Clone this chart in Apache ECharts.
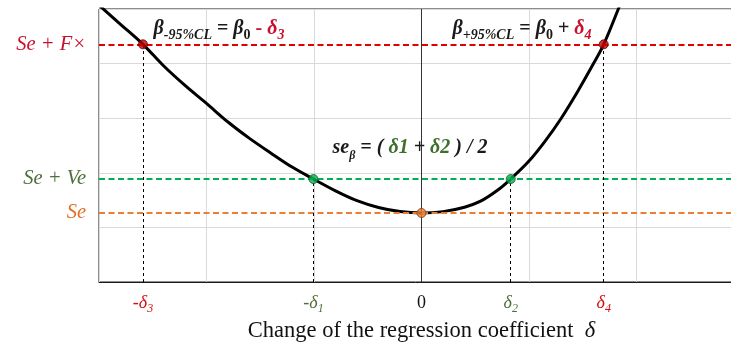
<!DOCTYPE html>
<html><head><meta charset="utf-8">
<script src="https://cdn.jsdelivr.net/npm/echarts@6/dist/echarts.min.js"></script>
<style>html,body{margin:0;padding:0;background:#fff}#c{width:731px;height:345px}</style>
</head><body><div id="c"></div>
<script>
// ---- data ----
const curveX = [-3.0, -2.8, -2.591, -2.4, -2.2, -2.0, -1.8, -1.6, -1.4, -1.2, -1.005, -0.8, -0.6, -0.4, -0.2, 0, 0.2, 0.4, 0.55, 0.7, 0.83, 1.0, 1.15, 1.3, 1.45, 1.6, 1.695, 1.831, 1.9];
const curveY = [5.07, 4.72, 4.353, 3.96, 3.60, 3.27, 2.93, 2.63, 2.36, 2.10, 1.886, 1.67, 1.49, 1.365, 1.29, 1.264, 1.289, 1.37, 1.48, 1.67, 1.886, 2.214, 2.58, 3.0, 3.48, 4.0, 4.353, 5.0, 5.35];
const levelNames = ['Se', 'Se + Ve', 'Se + F×'];
const levelValues = [1.264, 1.886, 4.353];
const pointX = [-2.591, -1.005, 0, 0.83, 1.695];
const pointY = [4.353, 1.886, 1.264, 1.886, 4.353];
const xTickLabels = ['-δ3', '-δ1', '0', 'δ2', 'δ4'];

const RED = '#c00000', GREEN = '#00b050', ORANGE = '#ed7d31';
const levelColors = [ORANGE, GREEN, '#e00000'];
const levelTextColors = ['#e07028', '#4f6f3a', '#c8102e'];
const pointFill = [RED, GREEN, ORANGE, GREEN, RED];
const pointBorder = ['#5a0000', '#1d5a2c', '#7a3a10', '#1d5a2c', '#5a0000'];
const xTickColors = ['#d01010', '#4f6f3a', '#111', '#4f6f3a', '#d01010'];
const SERIF = '"Liberation Serif","DejaVu Serif",serif';

const chart = echarts.init(document.getElementById('c'), null, {renderer: 'canvas'});

const xRich = {};
xTickColors.forEach((c, i) => {
  xRich['m' + i] = {fontFamily: SERIF, fontStyle: i === 2 ? 'normal' : 'italic', fontSize: 18, color: c, lineHeight: 24, verticalAlign: 'middle'};
  xRich['s' + i] = {fontFamily: SERIF, fontStyle: 'italic', fontSize: 12, color: c, lineHeight: 13, verticalAlign: 'bottom'};
});
const yRich = {};
levelTextColors.forEach((c, i) => {
  yRich['y' + i] = {fontFamily: SERIF, fontStyle: 'italic', fontSize: 20.5, color: c};
});

function richAnno(parts) { return parts.map(p => '{' + p[0] + '|' + p[1] + '}').join(''); }
function tok(size, style, weight, color, lh, va) {
  return {fontFamily: SERIF, fontStyle: style, fontWeight: weight, fontSize: size, fill: color, color: color, lineHeight: lh, verticalAlign: va};
}
const BLK = '#1a1a1a', ARED = '#c8102e', AGRN = '#3f6f2a';
const annoRich = {
  b: tok(20, 'italic', 'bold', BLK, 27, 'middle'),
  n: tok(20, 'normal', 'bold', BLK, 27, 'middle'),
  bs: tok(14, 'italic', 'bold', BLK, 15, 'bottom'),
  ns: tok(14, 'normal', 'bold', BLK, 15, 'bottom'),
  r: tok(20, 'normal', 'bold', ARED, 27, 'middle'),
  ri: tok(20, 'italic', 'bold', ARED, 27, 'middle'),
  rs: tok(14, 'italic', 'bold', ARED, 15, 'bottom'),
  g: tok(20, 'italic', 'bold', AGRN, 27, 'middle'),
  bss: tok(12, 'italic', 'bold', BLK, 15, 'bottom')
};

const option = {
  animation: false,
  backgroundColor: '#fff',
  grid: {left: 99, right: -13, top: 9, bottom: 63, containLabel: false, outerBoundsMode: 'none',
    show: true, borderColor: '#1a1a1a', borderWidth: 1, backgroundColor: 'transparent'},
  xAxis: {
    type: 'value', min: -3, max: 3, interval: 1,
    axisLine: {show: true, lineStyle: {color: '#1a1a1a', width: 1}},
    axisTick: {show: false},
    splitLine: {show: true, lineStyle: {color: '#d9d9d9', width: 1}},
    axisLabel: {
      customValues: pointX, margin: 9,
      formatter: function (v) {
        let i = pointX.findIndex(p => Math.abs(p - v) < 1e-6);
        if (i < 0) return '';
        const t = xTickLabels[i];
        if (t.length > 1 && /\d$/.test(t)) return '{m' + i + '|' + t.slice(0, -1) + '}{s' + i + '|' + t.slice(-1) + '}';
        return '{m' + i + '|' + t + '}';
      },
      rich: xRich
    },
    name: '{a|Change of the regression coefficient  }{d|δ}',
    nameLocation: 'middle', nameGap: 36,
    nameTextStyle: {rich: {
      a: {fontFamily: SERIF, fontSize: 22.5, color: '#111'},
      d: {fontFamily: SERIF, fontStyle: 'italic', fontSize: 22.5, color: '#111'}
    }}
  },
  yAxis: {
    type: 'value', min: 0, max: 5, interval: 1,
    axisLine: {show: false}, axisTick: {show: false},
    splitLine: {show: true, lineStyle: {color: '#d9d9d9', width: 1}},
    axisLabel: {
      customValues: levelValues, margin: 13,
      formatter: function (v) {
        let i = levelValues.findIndex(p => Math.abs(p - v) < 1e-6);
        if (i < 0) return '';
        return '{y' + i + '|' + levelNames[i] + '}';
      },
      rich: yRich
    }
  },
  series: [
    {
      type: 'line', name: 'guides', data: [], z: 1, silent: true,
      markLine: {
        silent: true, symbol: 'none', animation: false, label: {show: false},
        data: levelValues.map((v, i) => ({yAxis: v, lineStyle: {color: levelColors[i], width: 2, type: [6, 3.5]}}))
          .concat([{xAxis: 0, lineStyle: {color: '#333', width: 1, type: 'solid'}}])
          .concat(pointX.map((x, idx) => idx).filter(idx => pointX[idx] !== 0).map(idx =>
            [{coord: [pointX[idx], 0], lineStyle: {color: '#000', width: 1, type: [3, 3]}}, {coord: [pointX[idx], pointY[idx]]}]))
      }
    },
    {
      type: 'line', name: 'curve', z: 3,
      data: curveX.map((x, i) => [x, curveY[i]]),
      smooth: 0.35, symbol: 'none', clip: true,
      lineStyle: {color: '#000', width: 3}
    },
    {
      type: 'scatter', name: 'points', z: 5, symbolSize: 9,
      data: pointX.map((x, i) => ({value: [x, pointY[i]], itemStyle: {color: pointFill[i], borderColor: pointBorder[i], borderWidth: 1}}))
    }
  ],
  graphic: [
    {type: 'text', x: 219, y: 29, z: 100, style: {
      text: richAnno([['b', 'β'], ['bs', '-95%CL'], ['n', ' = '], ['b', 'β'], ['ns', '0'], ['r', ' - '], ['ri', 'δ'], ['rs', '3']]),
      rich: annoRich, fill: BLK, align: 'center', verticalAlign: 'middle'}},
    {type: 'text', x: 522, y: 29, z: 100, style: {
      text: richAnno([['b', 'β'], ['bs', '+95%CL'], ['n', ' = '], ['b', 'β'], ['ns', '0'], ['n', ' + '], ['ri', 'δ'], ['rs', '4']]),
      rich: annoRich, fill: BLK, align: 'center', verticalAlign: 'middle'}},
    {type: 'text', x: 410, y: 148, z: 100, style: {
      text: richAnno([['b', 'se'], ['bss', 'β'], ['b', ' = ( '], ['g', 'δ1'], ['b', ' + '], ['g', 'δ2'], ['b', ' ) / 2']]),
      rich: annoRich, fill: BLK, align: 'center', verticalAlign: 'middle'}}
  ]
};
chart.setOption(option);
</script>
</body></html>
